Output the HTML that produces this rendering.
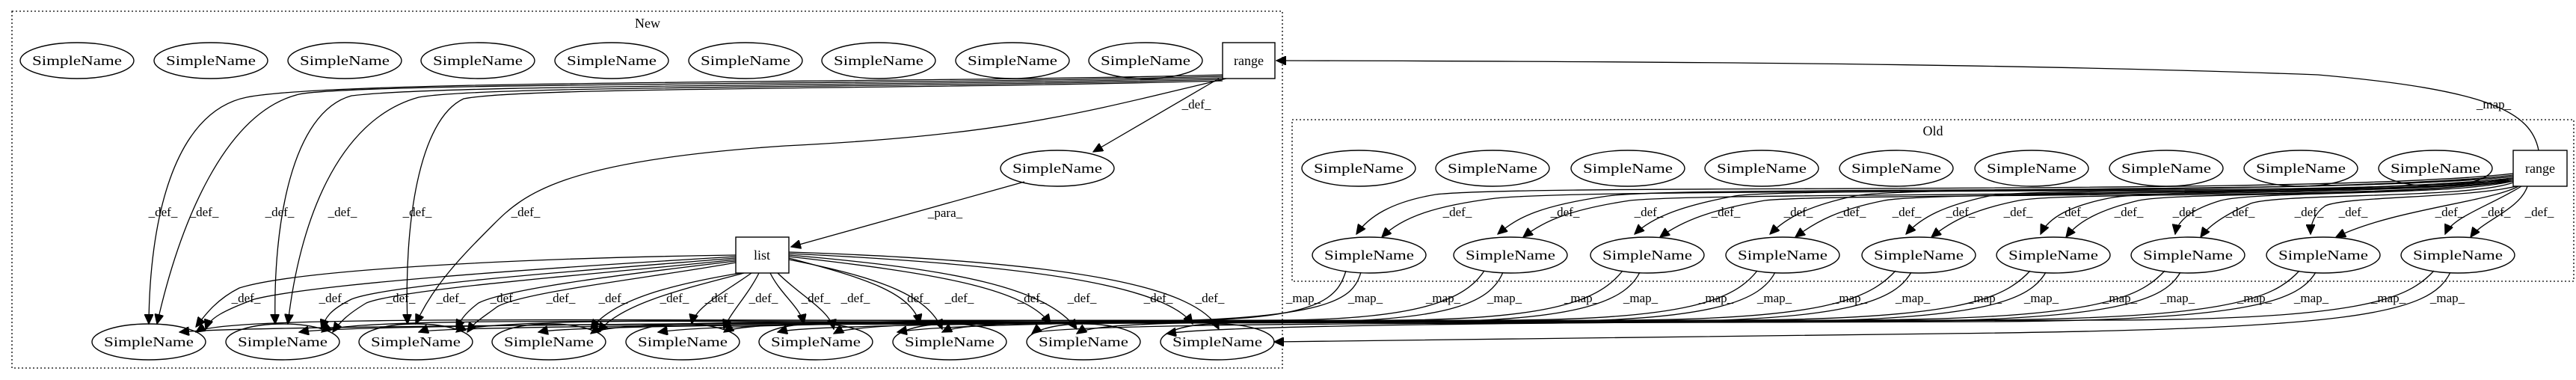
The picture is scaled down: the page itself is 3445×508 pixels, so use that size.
<!DOCTYPE html>
<html><head><meta charset="utf-8"><style>
html,body{margin:0;padding:0;background:#fff}
svg{display:block}
text{font-family:"Liberation Serif",serif;fill:#000}
.n{font-size:18px}
.l{font-size:17px}
path{fill:none;stroke:#000;stroke-width:1.3}
ellipse,rect.nd{fill:none;stroke:#000;stroke-width:1.4}
.cl{fill:none;stroke:#000;stroke-width:1.3;stroke-dasharray:2,3}
</style></head><body>
<svg width="3445" height="508" viewBox="0 0 3445 508" xmlns="http://www.w3.org/2000/svg">
<defs><marker id="a" markerUnits="userSpaceOnUse" markerWidth="14" markerHeight="12" refX="13" refY="6" orient="auto"><path d="M0,0 L13,6 L0,12 Z" style="fill:#000;stroke:#000"/></marker></defs>
<rect class="cl" x="16" y="15" width="1699" height="477"/>
<text class="n" x="866" y="37" text-anchor="middle">New</text>
<rect class="cl" x="1728" y="160" width="1714" height="216"/>
<text class="n" x="2585" y="181" text-anchor="middle">Old</text>

<g>
<ellipse cx="103" cy="81" rx="76" ry="24"/><ellipse cx="282" cy="81" rx="76" ry="24"/><ellipse cx="461" cy="81" rx="76" ry="24"/><ellipse cx="639" cy="81" rx="76" ry="24"/><ellipse cx="818" cy="81" rx="76" ry="24"/><ellipse cx="997" cy="81" rx="76" ry="24"/><ellipse cx="1175" cy="81" rx="76" ry="24"/><ellipse cx="1354" cy="81" rx="76" ry="24"/><ellipse cx="1532" cy="81" rx="76" ry="24"/>
<rect class="nd" x="1635" y="57" width="70" height="48"/>
<ellipse cx="1414" cy="225" rx="76" ry="24"/>
<rect class="nd" x="984" y="317" width="71" height="48"/>
<ellipse cx="199" cy="457" rx="76" ry="24"/><ellipse cx="378" cy="457" rx="76" ry="24"/><ellipse cx="556" cy="457" rx="76" ry="24"/><ellipse cx="734" cy="457" rx="76" ry="24"/><ellipse cx="913" cy="457" rx="76" ry="24"/><ellipse cx="1091" cy="457" rx="76" ry="24"/><ellipse cx="1270" cy="457" rx="76" ry="24"/><ellipse cx="1449" cy="457" rx="76" ry="24"/><ellipse cx="1628" cy="457" rx="76" ry="24"/>
<ellipse cx="1817" cy="225" rx="76" ry="24"/><ellipse cx="1996" cy="225" rx="76" ry="24"/><ellipse cx="2177" cy="225" rx="76" ry="24"/><ellipse cx="2356" cy="225" rx="76" ry="24"/><ellipse cx="2536" cy="225" rx="76" ry="24"/><ellipse cx="2717" cy="225" rx="76" ry="24"/><ellipse cx="2897" cy="225" rx="76" ry="24"/><ellipse cx="3077" cy="225" rx="76" ry="24"/><ellipse cx="3257" cy="225" rx="76" ry="24"/>
<rect class="nd" x="3361" y="201" width="72" height="48"/>
<ellipse cx="1831" cy="341" rx="76" ry="24"/><ellipse cx="2020" cy="341" rx="76" ry="24"/><ellipse cx="2203" cy="341" rx="76" ry="24"/><ellipse cx="2384" cy="341" rx="76" ry="24"/><ellipse cx="2566" cy="341" rx="76" ry="24"/><ellipse cx="2746" cy="341" rx="76" ry="24"/><ellipse cx="2926" cy="341" rx="76" ry="24"/><ellipse cx="3107" cy="341" rx="76" ry="24"/><ellipse cx="3287" cy="341" rx="76" ry="24"/>
</g>
<g class="n" text-anchor="middle">
<text x="103" y="87" textLength="120" lengthAdjust="spacingAndGlyphs">SimpleName</text><text x="282" y="87" textLength="120" lengthAdjust="spacingAndGlyphs">SimpleName</text><text x="461" y="87" textLength="120" lengthAdjust="spacingAndGlyphs">SimpleName</text><text x="639" y="87" textLength="120" lengthAdjust="spacingAndGlyphs">SimpleName</text><text x="818" y="87" textLength="120" lengthAdjust="spacingAndGlyphs">SimpleName</text><text x="997" y="87" textLength="120" lengthAdjust="spacingAndGlyphs">SimpleName</text><text x="1175" y="87" textLength="120" lengthAdjust="spacingAndGlyphs">SimpleName</text><text x="1354" y="87" textLength="120" lengthAdjust="spacingAndGlyphs">SimpleName</text><text x="1532" y="87" textLength="120" lengthAdjust="spacingAndGlyphs">SimpleName</text>
<text x="1670" y="87">range</text>
<text x="1414" y="231" textLength="120" lengthAdjust="spacingAndGlyphs">SimpleName</text>
<text x="1019" y="347">list</text>
<text x="199" y="463" textLength="120" lengthAdjust="spacingAndGlyphs">SimpleName</text><text x="378" y="463" textLength="120" lengthAdjust="spacingAndGlyphs">SimpleName</text><text x="556" y="463" textLength="120" lengthAdjust="spacingAndGlyphs">SimpleName</text><text x="734" y="463" textLength="120" lengthAdjust="spacingAndGlyphs">SimpleName</text><text x="913" y="463" textLength="120" lengthAdjust="spacingAndGlyphs">SimpleName</text><text x="1091" y="463" textLength="120" lengthAdjust="spacingAndGlyphs">SimpleName</text><text x="1270" y="463" textLength="120" lengthAdjust="spacingAndGlyphs">SimpleName</text><text x="1449" y="463" textLength="120" lengthAdjust="spacingAndGlyphs">SimpleName</text><text x="1628" y="463" textLength="120" lengthAdjust="spacingAndGlyphs">SimpleName</text>
<text x="1817" y="231" textLength="120" lengthAdjust="spacingAndGlyphs">SimpleName</text><text x="1996" y="231" textLength="120" lengthAdjust="spacingAndGlyphs">SimpleName</text><text x="2177" y="231" textLength="120" lengthAdjust="spacingAndGlyphs">SimpleName</text><text x="2356" y="231" textLength="120" lengthAdjust="spacingAndGlyphs">SimpleName</text><text x="2536" y="231" textLength="120" lengthAdjust="spacingAndGlyphs">SimpleName</text><text x="2717" y="231" textLength="120" lengthAdjust="spacingAndGlyphs">SimpleName</text><text x="2897" y="231" textLength="120" lengthAdjust="spacingAndGlyphs">SimpleName</text><text x="3077" y="231" textLength="120" lengthAdjust="spacingAndGlyphs">SimpleName</text><text x="3257" y="231" textLength="120" lengthAdjust="spacingAndGlyphs">SimpleName</text>
<text x="3397" y="231">range</text>
<text x="1831" y="347" textLength="120" lengthAdjust="spacingAndGlyphs">SimpleName</text><text x="2020" y="347" textLength="120" lengthAdjust="spacingAndGlyphs">SimpleName</text><text x="2203" y="347" textLength="120" lengthAdjust="spacingAndGlyphs">SimpleName</text><text x="2384" y="347" textLength="120" lengthAdjust="spacingAndGlyphs">SimpleName</text><text x="2566" y="347" textLength="120" lengthAdjust="spacingAndGlyphs">SimpleName</text><text x="2746" y="347" textLength="120" lengthAdjust="spacingAndGlyphs">SimpleName</text><text x="2926" y="347" textLength="120" lengthAdjust="spacingAndGlyphs">SimpleName</text><text x="3107" y="347" textLength="120" lengthAdjust="spacingAndGlyphs">SimpleName</text><text x="3287" y="347" textLength="120" lengthAdjust="spacingAndGlyphs">SimpleName</text>
</g>

<g marker-end="url(#a)">
<!-- old range -> new range -->
<path d="M3395,201 C3385,150 3330,120 3100,100 C2700,85 2200,82 1707,81"/>
<!-- new range -> bottom -->
<path d="M1635,100 C1200,112 450,106 330,130 C230,150 200,300 199,433"/>
<path d="M1635,102 C1200,114 480,110 400,126 C300,150 240,300 210,433"/>
<path d="M1635,104 C1200,116 600,112 470,128 C390,150 365,300 368,433"/>
<path d="M1635,106 C1200,118 650,114 560,130 C450,160 400,300 385,433"/>
<path d="M1635,108 C1200,120 700,116 620,132 C560,160 540,300 545,433"/>
<path d="M1640,105 C1450,150 1350,180 1050,195 C750,215 700,260 660,300 C620,340 580,380 556,433"/>
<path d="M1630,105 L1462,203"/>
<path d="M1370,243 L1058,330"/>
<!-- list -> bottom -->
<path d="M984,341 C700,345 400,360 320,385 C290,400 275,420 262,437"/>
<path d="M984,343 C700,360 420,380 340,400 C300,415 280,425 275,440"/>
<path d="M984,345 C800,360 520,380 470,400 C440,415 435,425 430,440"/>
<path d="M984,347 C820,365 540,385 490,405 C465,420 455,430 445,444"/>
<path d="M984,349 C850,365 680,385 640,405 C620,420 615,430 610,440"/>
<path d="M984,351 C880,370 700,390 665,410 C645,425 635,430 625,444"/>
<path d="M990,365 C900,380 820,400 790,440"/>
<path d="M995,365 C920,385 830,405 800,444"/>
<path d="M1005,365 C970,390 930,410 925,433"/>
<path d="M1015,365 C1000,395 975,420 968,440"/>
<path d="M1030,365 C1045,395 1070,410 1075,433"/>
<path d="M1040,365 C1070,395 1110,415 1115,440"/>
<path d="M1055,345 C1150,370 1220,390 1230,433"/>
<path d="M1055,347 C1180,372 1240,395 1260,440"/>
<path d="M1055,343 C1250,365 1370,385 1405,433"/>
<path d="M1055,341 C1280,360 1400,385 1440,440"/>
<path d="M1055,339 C1400,355 1560,385 1595,433"/>
<path d="M1055,337 C1450,350 1600,385 1630,440"/>
<!-- old range -> old second row -->
<path d="M3361,232 C3100,262 2050,245 1920,260 C1860,270 1830,290 1814,313"/>
<path d="M3361,234 C3100,264 2150,250 2000,265 C1920,275 1875,290 1848,317"/>
<path d="M3361,236 C3100,262 2250,248 2150,262 C2060,275 2030,290 2003,313"/>
<path d="M3361,238 C3100,266 2300,256 2180,268 C2100,280 2065,295 2037,317"/>
<path d="M3361,240 C3150,262 2400,250 2320,262 C2250,275 2210,290 2186,313"/>
<path d="M3361,242 C3150,266 2450,258 2360,268 C2290,280 2250,295 2220,317"/>
<path d="M3361,236 C3150,258 2550,248 2480,262 C2420,275 2390,290 2367,313"/>
<path d="M3361,238 C3150,262 2580,256 2520,268 C2460,280 2430,295 2401,317"/>
<path d="M3361,240 C3200,262 2720,250 2660,262 C2600,275 2570,290 2549,313"/>
<path d="M3361,242 C3200,266 2760,256 2700,268 C2640,280 2610,295 2583,317"/>
<path d="M3361,238 C3250,260 2880,252 2820,265 C2770,275 2740,290 2729,313"/>
<path d="M3361,240 C3250,264 2920,256 2860,268 C2810,280 2780,295 2763,317"/>
<path d="M3361,242 C3280,262 3020,255 2970,268 C2930,280 2912,295 2909,313"/>
<path d="M3361,244 C3300,266 3050,258 3010,272 C2980,285 2955,300 2943,317"/>
<path d="M3365,249 C3300,265 3140,262 3110,275 C3095,285 3090,300 3090,313"/>
<path d="M3368,249 C3330,270 3200,280 3124,317"/>
<path d="M3372,249 C3330,275 3280,290 3270,313"/>
<path d="M3380,249 C3370,280 3320,295 3304,317"/>
<!-- map old second row -> new bottom -->
<path d="M1800,362 C1790,395 1770,425 1600,428 C800,430 300,420 262,444"/>
<path d="M1820,364 C1810,400 1780,428 1500,430 C900,432 460,422 430,444"/>
<path d="M1985,362 C1960,400 1900,428 1700,428 C1100,430 640,422 610,444"/>
<path d="M2010,364 C1995,400 1950,429 1750,430 C1200,432 820,424 790,446"/>
<path d="M2170,362 C2140,400 2080,428 1850,428 C1400,430 1000,424 968,444"/>
<path d="M2193,364 C2175,400 2120,429 1900,430 C1500,432 1150,426 1115,446"/>
<path d="M2350,362 C2320,400 2260,428 2000,428 C1600,430 1300,424 1260,444"/>
<path d="M2374,364 C2355,400 2300,429 2050,430 C1700,432 1470,426 1440,446"/>
<path d="M2535,362 C2500,400 2440,428 2150,428 C1800,430 1000,426 880,444"/>
<path d="M2556,364 C2535,400 2480,429 2200,430 C1850,432 1100,428 1040,444"/>
<path d="M2715,362 C2680,400 2620,428 2300,428 C1900,430 1300,426 1200,444"/>
<path d="M2736,364 C2715,400 2660,429 2350,430 C1950,432 800,428 720,444"/>
<path d="M2895,362 C2860,400 2800,428 2450,428 C2000,430 500,428 400,444"/>
<path d="M2916,364 C2895,400 2840,429 2500,430 C2050,432 600,430 560,444"/>
<path d="M3075,362 C3040,400 2980,428 2600,428 C2100,430 380,430 240,444"/>
<path d="M3097,364 C3075,400 3020,429 2650,430 C2150,432 1400,430 1380,446"/>
<path d="M3255,362 C3220,400 3160,428 2800,428 C2300,430 1650,432 1560,446"/>
<path d="M3277,364 C3250,420 3150,440 2600,446 C2200,450 1900,455 1704,457"/>
</g>

<g class="l" text-anchor="middle">
<text x="218" y="289">_def_</text><text x="273" y="289">_def_</text><text x="374" y="289">_def_</text><text x="458" y="289">_def_</text><text x="558" y="289">_def_</text><text x="703" y="289">_def_</text>
<text x="1600" y="145">_def_</text><text x="1264" y="290">_para_</text>
<text x="329" y="404">_def_</text><text x="446" y="404">_def_</text><text x="536" y="404">_def_</text><text x="603" y="404">_def_</text><text x="675" y="404">_def_</text><text x="750" y="404">_def_</text><text x="820" y="404">_def_</text><text x="902" y="404">_def_</text><text x="962" y="404">_def_</text><text x="1021" y="404">_def_</text><text x="1091" y="404">_def_</text><text x="1144" y="404">_def_</text><text x="1224" y="404">_def_</text><text x="1283" y="404">_def_</text><text x="1380" y="404">_def_</text><text x="1447" y="404">_def_</text><text x="1549" y="404">_def_</text><text x="1618" y="404">_def_</text>
<text x="1949" y="289">_def_</text><text x="2093" y="289">_def_</text><text x="2205" y="289">_def_</text><text x="2308" y="289">_def_</text><text x="2405" y="289">_def_</text><text x="2476" y="289">_def_</text><text x="2550" y="289">_def_</text><text x="2622" y="289">_def_</text><text x="2699" y="289">_def_</text><text x="2772" y="289">_def_</text><text x="2847" y="289">_def_</text><text x="2925" y="289">_def_</text><text x="2996" y="289">_def_</text><text x="3088" y="289">_def_</text><text x="3147" y="289">_def_</text><text x="3276" y="289">_def_</text><text x="3338" y="289">_def_</text><text x="3396" y="289">_def_</text>
<text x="1743" y="404">_map_</text><text x="1826" y="404">_map_</text><text x="1930" y="404">_map_</text><text x="2012" y="404">_map_</text><text x="2115" y="404">_map_</text><text x="2194" y="404">_map_</text><text x="2295" y="404">_map_</text><text x="2373" y="404">_map_</text><text x="2474" y="404">_map_</text><text x="2558" y="404">_map_</text><text x="2654" y="404">_map_</text><text x="2730" y="404">_map_</text><text x="2835" y="404">_map_</text><text x="2912" y="404">_map_</text><text x="3015" y="404">_map_</text><text x="3091" y="404">_map_</text><text x="3194" y="404">_map_</text><text x="3273" y="404">_map_</text>
<text x="3335" y="145">_map_</text>
</g>
</svg>
</body></html>
